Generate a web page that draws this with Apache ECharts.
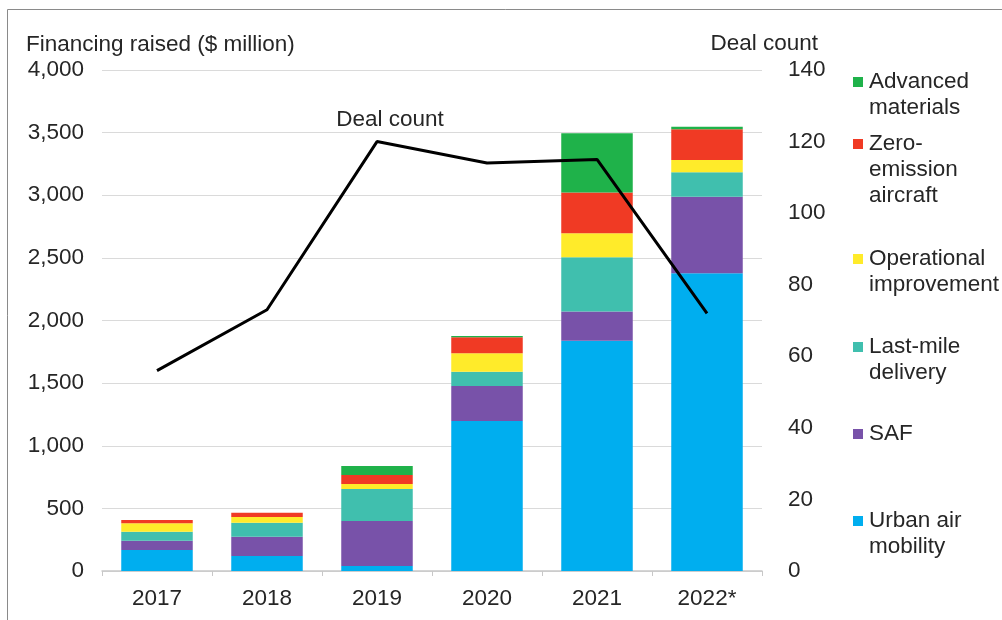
<!DOCTYPE html>
<html><head><meta charset="utf-8">
<script src="https://cdn.jsdelivr.net/npm/echarts@6/dist/echarts.min.js"></script>
<style>html,body{margin:0;padding:0;background:#fff}#c{width:1002px;height:620px}</style>
</head><body><div id="c"></div>
<script>
const years = ['2017','2018','2019','2020','2021','2022*'];
const urbanAirMobility = [168,120,40,1198,1839,2377];
const saf = [74,154,359,279,232,612];
const lastMileDelivery = [72,112,255,114,434,195];
const operationalImprovement = [67,45,40,147,192,98];
const zeroEmissionAircraft = [26,34,72,128,324,245];
const advancedMaterials = [0,0,72,10,474,20];
const dealCount = [56,73,120,114,115,72];
const leftTicks = [0,500,1000,1500,2000,2500,3000,3500,4000];
const rightTicks = [0,20,40,60,80,100,120,140];

const names = ['Urban air mobility','SAF','Last-mile delivery','Operational improvement','Zero-emission aircraft','Advanced materials'];
const legendLabels = ['Urban air\nmobility','SAF','Last-mile\ndelivery','Operational\nimprovement','Zero-\nemission\naircraft','Advanced\nmaterials'];
const colors = ['#00aeef','#7852a9','#40bfae','#ffeb2a','#f03a24','#1fb24a'];
const values = [urbanAirMobility,saf,lastMileDelivery,operationalImprovement,zeroEmissionAircraft,advancedMaterials];
const legendTop = [521,434,347,259,144,82];

const FONT = 'Liberation Sans, Arial, sans-serif';
const TXT = '#262626';
const FS = 22.5;

const chart = echarts.init(document.getElementById('c'), null, {renderer:'canvas'});
const series = names.map((n,i)=>({
  name:n, type:'bar', stack:'a', data:values[i], barWidth:'65%',
  itemStyle:{color:colors[i]}, emphasis:{disabled:true}
}));
series.push({
  name:'Deal count', type:'line', yAxisIndex:1, z:10,
  data: dealCount,
  showSymbol:true, symbol:'circle', symbolSize:0.1,
  label:{show:true, position:'top', offset:[13,-5], color:TXT, fontSize:FS, fontFamily:FONT,
    formatter:p=> p.dataIndex===2 ? 'Deal count' : ''},
  lineStyle:{color:'#000', width:3}, itemStyle:{color:'#000'}, emphasis:{disabled:true}
});

const graphic = [
  {type:'rect', shape:{x:7.5,y:9.5,width:1100,height:700}, style:{fill:'none', stroke:'#8a8a8a', lineWidth:1}, silent:true},
  {type:'text', left:26, top:33, style:{text:'Financing raised ($ million)', font:FS+'px '+FONT, fill:TXT}},
  {type:'text', right:1002-818, top:32, style:{text:'Deal count', font:FS+'px '+FONT, fill:TXT, textAlign:'right'}}
];
names.forEach((n,i)=>{
  graphic.push({type:'rect', shape:{x:853,y:legendTop[i]-5,width:10,height:10}, style:{fill:colors[i]}});
  graphic.push({type:'text', x:869, y:legendTop[i]-13, style:{text:legendLabels[i], font:FS+'px '+FONT, fill:TXT, lineHeight:26, verticalAlign:'top'}});
});

chart.setOption({
  animation:false,
  textStyle:{fontFamily:FONT},
  grid:{left:102, right:240, top:70, bottom:49},
  xAxis:{type:'category', data:years,
    axisLine:{lineStyle:{color:'#c8c8c8', width:1.5}},
    axisTick:{show:true, length:5, lineStyle:{color:'#c8c8c8'}},
    axisLabel:{color:TXT, fontSize:FS, margin:16, fontFamily:FONT}},
  yAxis:[
    {type:'value', min:leftTicks[0], max:leftTicks[leftTicks.length-1], interval:500,
     axisLine:{show:false}, axisTick:{show:false},
     splitLine:{lineStyle:{color:'#dadada', width:1}},
     axisLabel:{color:TXT, fontSize:FS, margin:18, fontFamily:FONT, formatter:v=>v.toLocaleString('en-US')}},
    {type:'value', min:rightTicks[0], max:rightTicks[rightTicks.length-1], interval:20,
     axisLine:{show:false}, axisTick:{show:false}, splitLine:{show:false},
     axisLabel:{color:TXT, fontSize:FS, margin:26, fontFamily:FONT, align:'left'}}
  ],
  series:series,
  graphic:graphic
});
</script></body></html>
